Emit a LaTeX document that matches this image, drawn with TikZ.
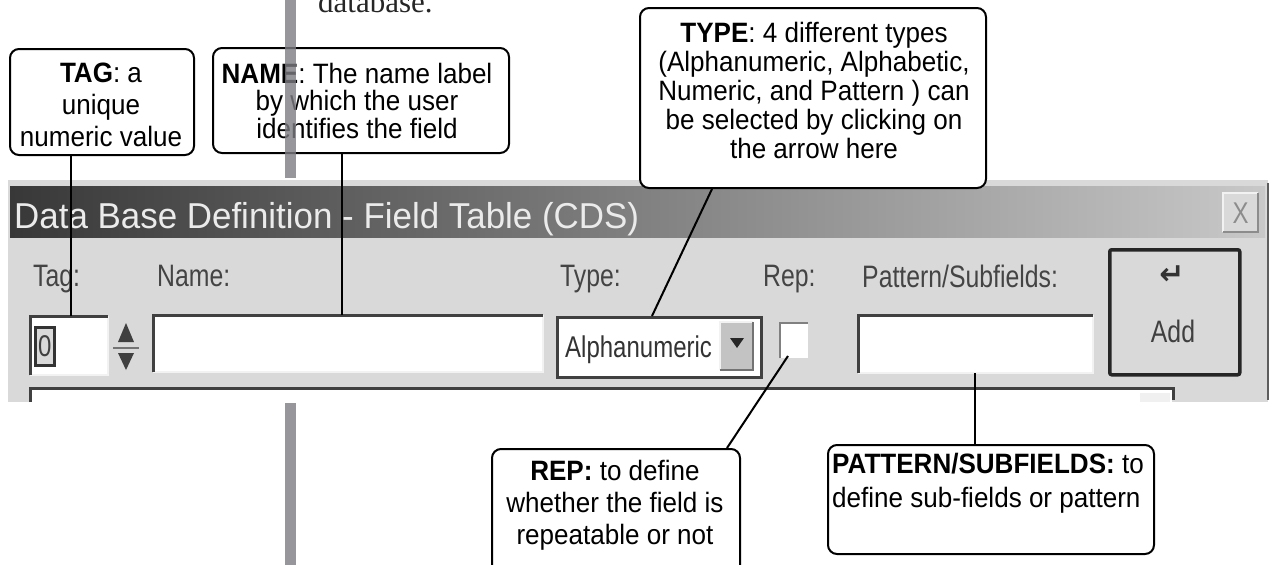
\documentclass[tikz,border=0pt]{standalone}
\usepackage{fontspec}
\setmainfont{Liberation Sans}
\newfontfamily\calfont[FakeStretch=0.93]{Liberation Sans}
\newfontfamily\uifont[FakeStretch=0.8]{Liberation Sans}
\newfontfamily\titlefont[FakeStretch=0.97]{Liberation Sans}
\newfontfamily\seriffont{Liberation Serif}
\newfontfamily\symfont{DejaVu Sans}
\definecolor{barGray}{HTML}{7D7E82}
\definecolor{winGray}{HTML}{D9D9D9}
\definecolor{darkEdge}{HTML}{404040}
\definecolor{uiText}{HTML}{444444}
\definecolor{titleDark}{HTML}{383838}
\definecolor{titleMid}{HTML}{6E6E6E}
\definecolor{titleLight}{HTML}{C8C8C8}
\definecolor{lightEdge}{HTML}{F2F2F2}
\tikzset{
  callbox/.style={draw=black, line width=2pt, rounded corners=9pt, fill=white, inner sep=0pt},
  conn/.style={draw=black, line width=2pt},
  calltext/.style={inner sep=0pt, align=center},
  field/.style={fill=white, inner sep=0pt, anchor=north west},
  sunkdark/.style={draw=darkEdge, line width=3pt},
  sunklight/.style={draw=lightEdge, line width=2pt},
  uilabel/.style={anchor=base west, inner sep=0pt, text=uiText, font=\uifont\fontsize{31}{31}\selectfont},
}
\begin{document}
\begin{tikzpicture}[x=1pt,y=-1pt]
\useasboundingbox (0,0) rectangle (1275,565);
\fill[white] (0,0) rectangle (1275,565);

% page text fragment
\node[anchor=base west, inner sep=0pt, text=black!85, font=\seriffont\fontsize{31}{31}\selectfont] (db) at (318,12) {database.};

% ---------------- window ----------------
\fill[winGray] (8,180) rectangle (1268,402);
\shade[left color=titleDark, middle color=titleMid, right color=titleLight] (10,186) rectangle (1265,237);
\node[anchor=base west, inner sep=0pt, text=white!92!black, font=\titlefont\fontsize{36}{36}\selectfont] (title) at (14,228) {Data Base Definition - Field Table (CDS)};
% close button
\node[field, fill=winGray, minimum width=35pt, minimum height=39pt] (closeb) at (1223,193) {};
\draw[lightEdge, line width=2pt] (closeb.south west) -- (closeb.north west) -- (closeb.north east);
\draw[black!45, line width=2pt] (closeb.north east) -- (closeb.south east) -- (closeb.south west);
\node[inner sep=0pt, text=black!45, font=\uifont\fontsize{30}{30}\selectfont] at (closeb.center) {X};
\draw[darkEdge!85, line width=2.5pt] (1268,183) -- (1268,400);

% labels
\node[uilabel] (ltag) at (33,286) {Tag:};
\node[uilabel] (lname) at (157,286) {Name:};
\node[uilabel] (ltype) at (560,286) {Type:};
\node[uilabel] (lrep) at (763,286) {Rep:};
\node[uilabel] (lpat) at (862,287) {Pattern/Subfields:};

% tag input
\node[field, minimum width=78pt, minimum height=59pt] (tagin) at (30,316) {};
\draw[sunklight] (tagin.north east) -- (tagin.south east) -- (tagin.south west);
\draw[sunkdark] (tagin.south west) -- (tagin.north west) -- (tagin.north east);
\node[anchor=north west, draw=black!80, line width=2.5pt, fill=white!85!black, text=black!75, inner sep=0pt, minimum width=19pt, minimum height=38pt, font=\uifont\fontsize{30}{30}\selectfont] (zero) at (34,326) {0};
% spinner
\node[field, fill=winGray, minimum width=28pt, minimum height=59pt] (spin) at (112,316) {};
\fill[black!75] (118,342) -- (126,323) -- (134,342) -- cycle;
\draw[black!55, line width=1.5pt] (113,348) -- (139,348);
\fill[black!75] (118,353) -- (134,353) -- (126,370) -- cycle;
% name input
\node[field, minimum width=390pt, minimum height=57pt] (namein) at (153,315) {};
\draw[sunklight] (namein.north east) -- (namein.south east) -- (namein.south west);
\draw[sunkdark] (namein.south west) -- (namein.north west) -- (namein.north east);
% type combo
\node[field, draw=darkEdge, line width=2.5pt, minimum width=204pt, minimum height=60pt] (typecb) at (556,316) {};
\node[anchor=base west, inner sep=0pt, text=black!80, font=\uifont\fontsize{30}{30}\selectfont] (alpha) at (565,357) {Alphanumeric};
\node[field, fill=winGray!90!black, minimum width=33pt, minimum height=48pt] (dropb) at (720,322) {};
\draw[lightEdge, line width=1.5pt] (dropb.south west) -- (dropb.north west) -- (dropb.north east);
\draw[black!55, line width=2pt] (dropb.north east) -- (dropb.south east) -- (dropb.south west);
\fill[black!85] (730,338) -- (744,338) -- (737,348) -- cycle;
% checkbox
\node[field, minimum width=28pt, minimum height=35pt] (chk) at (780,323) {};
\draw[draw=black!50, line width=2.5pt] (chk.south west) -- (chk.north west) -- (chk.north east);
% pattern input
\node[field, minimum width=235pt, minimum height=58pt] (patin) at (858,315) {};
\draw[sunklight] (patin.north east) -- (patin.south east) -- (patin.south west);
\draw[sunkdark] (patin.south west) -- (patin.north west) -- (patin.north east);
% add button
\node[field, fill=winGray, draw=black!85, line width=3.5pt, rounded corners=2pt, minimum width=130pt, minimum height=125pt] (addb) at (1108,248) {};
\node[inner sep=0pt, text=black!80, font=\symfont\bfseries\fontsize{30}{30}\selectfont] (ret) at (1172,275) {↵};
\node[anchor=base, inner sep=0pt, text=black!75, font=\uifont\fontsize{31}{31}\selectfont] (addt) at (1173,342) {Add};
% list box
\fill[white] (31,389) rectangle (1172,402);
\fill[white!88!gray] (1140,393) rectangle (1170,402);
\draw[darkEdge, line width=3pt] (30,402) -- (30,388) -- (1173,388) -- (1173,400);

% ---------------- callouts ----------------
\node[callbox, anchor=north west, minimum width=184pt, minimum height=106pt] (tagbox) at (9,48) {};
\node[calltext, anchor=north, font=\calfont\fontsize{28}{32}\selectfont] (tagtxt) at (101,63) {\textbf{TAG}: a\\unique\\numeric value};

\node[callbox, anchor=north west, minimum width=296pt, minimum height=105pt] (namebox) at (212,47) {};
\node[calltext, anchor=north, font=\calfont\fontsize{28}{27.5}\selectfont] (nametxt) at (357,63) {\textbf{NAME}: The name label\\by which the user\\identifies the field};

\node[callbox, anchor=north west, minimum width=346pt, minimum height=180pt] (typebox) at (639,7) {};
\node[calltext, anchor=north, font=\calfont\fontsize{28}{29}\selectfont] (typetxt) at (814,22) {\textbf{TYPE}: 4 different types\\(Alphanumeric, Alphabetic,\\Numeric, and Pattern ) can\\be selected by clicking on\\the arrow here};

\node[callbox, anchor=north west, minimum width=248pt, minimum height=135pt] (repbox) at (491,448) {};
\node[calltext, anchor=north, font=\calfont\fontsize{28}{32}\selectfont] (reptxt) at (615,460) {\textbf{REP:} to define\\whether the field is\\repeatable or not};

\node[callbox, anchor=north west, minimum width=326pt, minimum height=109pt] (patbox) at (827,444) {};
\node[calltext, align=left, anchor=north west, font=\calfont\fontsize{28}{34}\selectfont] (pattxt) at (832,453) {\textbf{PATTERN/SUBFIELDS:} to\\define sub-fields or pattern};

% page column bar (over the page, partly transparent)
\fill[barGray, fill opacity=0.8] (285,0) rectangle (296,178);
\fill[barGray, fill opacity=0.8] (285,403) rectangle (296,565);

% ---------------- connectors ----------------
\coordinate (tagpt) at (71,316);
\coordinate (namept) at (342,315);
\coordinate (typept) at (652,316);
\coordinate (reppt) at (788,356);
\draw[conn] (tagbox.south -| tagpt) -- (tagpt);
\draw[conn] (namebox.south -| namept) -- (namept);
\draw[conn] (typebox.south -| 712,0) -- (typept);
\draw[conn] (reppt) -- (repbox.north -| 727,0);
\draw[conn] (patin.south -| 975,0) -- (patbox.north -| 975,0);
\end{tikzpicture}
\end{document}
